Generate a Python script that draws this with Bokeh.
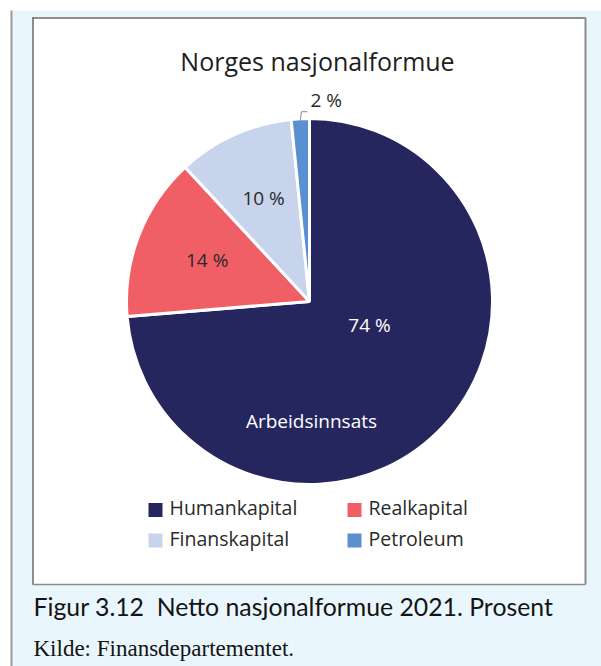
import numpy as np
from bokeh.plotting import figure
from bokeh.models import Range1d, ColumnDataSource
from bokeh.core.properties import value
from bokeh.embed import file_html
from bokeh.resources import INLINE

# ---- data ----
categories = ["Humankapital", "Realkapital", "Finanskapital", "Petroleum"]
shares = [73.7, 14.4, 10.3, 1.6]
slice_labels = ["74 %", "14 %", "10 %", "2 %"]
colors = ["#26265E", "#F05F66", "#C8D4EC", "#5A8FD0"]
inner_label = "Arbeidsinnsats"
title_text = "Norges nasjonalformue"
caption_text = "Figur 3.12\u00a0 Netto nasjonalformue 2021. Prosent"
source_text = "Kilde: Finansdepartementet."

SANS = value("Open Sans")

p = figure(width=601, height=666, x_range=Range1d(0, 601), y_range=Range1d(-666, 0),
           output_backend="svg", toolbar_location=None, min_border=0,
           x_axis_location=None, y_axis_location=None)
p.grid.visible = False
p.outline_line_color = None
p.background_fill_color = "white"
p.border_fill_color = "white"


def txt(x, y_base, s, size, color="#2A2A2A", font=SANS, align="left"):
    # y_base: desired baseline in page pixels (downward)
    dy = 0.45 * size
    p.text(x=[x], y=[-(y_base - dy)], text=[s], text_font=font,
           text_font_size=value(f"{size}px"), text_color=color,
           text_align=align, text_baseline="alphabetic")


# background panel
p.quad(left=[12], right=[601], top=[-10], bottom=[-666], fill_color="#EAF6FD", line_color=None)
p.quad(left=[10], right=[12], top=[-10], bottom=[-666], fill_color="#9A9A9A", line_color=None)
# white box
p.quad(left=[32], right=[585], top=[-17], bottom=[-584], fill_color="white", line_color=None)
p.segment(x0=[32], y0=[-17.5], x1=[585], y1=[-17.5], line_color="#222222", line_width=1.2)
p.segment(x0=[32.5], y0=[-17], x1=[32.5], y1=[-584], line_color="#444444", line_width=1.2)
p.segment(x0=[585], y0=[-17], x1=[585], y1=[-584], line_color="#8C8C8C", line_width=2)
p.segment(x0=[32], y0=[-584], x1=[585], y1=[-584], line_color="#8C8C8C", line_width=1.5)

# pie
cx, cy, R = 309.0, -301.0, 183.0
frac = np.array(shares) / np.sum(shares)
cum = np.concatenate([[0], np.cumsum(frac)[:-1]])
start = np.pi / 2 - 2 * np.pi * cum
end = start - 2 * np.pi * frac
mid = (start + end) / 2
src = ColumnDataSource(dict(start=start, end=end, color=colors, cat=categories))
p.wedge(x=cx, y=cy, radius=R, start_angle="start", end_angle="end", direction="clock",
        fill_color="color", line_color="white", line_width=3, source=src)

FS = 19
# labels for small slices on mid-angle rays
for i, rf in ((1, 0.60), (2, 0.61)):
    lx = cx + rf * R * np.cos(mid[i])
    ly = cy + rf * R * np.sin(mid[i])
    txt(lx, -ly + 0.36 * FS, slice_labels[i], FS, align="center")

# big slice
txt(cx + 60, -cy + 32, slice_labels[0], FS, color="white", align="center")
txt(cx + 2, -cy + 128, inner_label, FS, color="white", align="center")

# small slice with leader
ex = cx + (R - 2) * np.cos(mid[3])
ey = cy + (R - 2) * np.sin(mid[3])
p.line(x=[ex, ex + 1, ex + 7], y=[ey + 1, ey + 9, ey + 9], line_color="#888888", line_width=1)
txt(ex + 10, -(ey + 12), slice_labels[3], FS)

# title
txt(317, 72, title_text, 25, color="#1E1E1E", align="center")

# legend
col_x = [155, 354]
row_y = [509.5, 540]
for i, (c, col) in enumerate(zip(categories, colors)):
    sx = col_x[i % 2]
    sy = row_y[i // 2]
    p.rect(x=[sx], y=[-sy], width=14, height=14, fill_color=col, line_color=None)
    txt(sx + 14, sy + 6.5, c, 19.5)

# caption
txt(33, 617, caption_text, 24.8, color="#141414", font=value("Lato"))
txt(33, 658, source_text, 23, color="#141414", font=value("Liberation Serif"))

open("out.html", "w").write(file_html(p, INLINE))
